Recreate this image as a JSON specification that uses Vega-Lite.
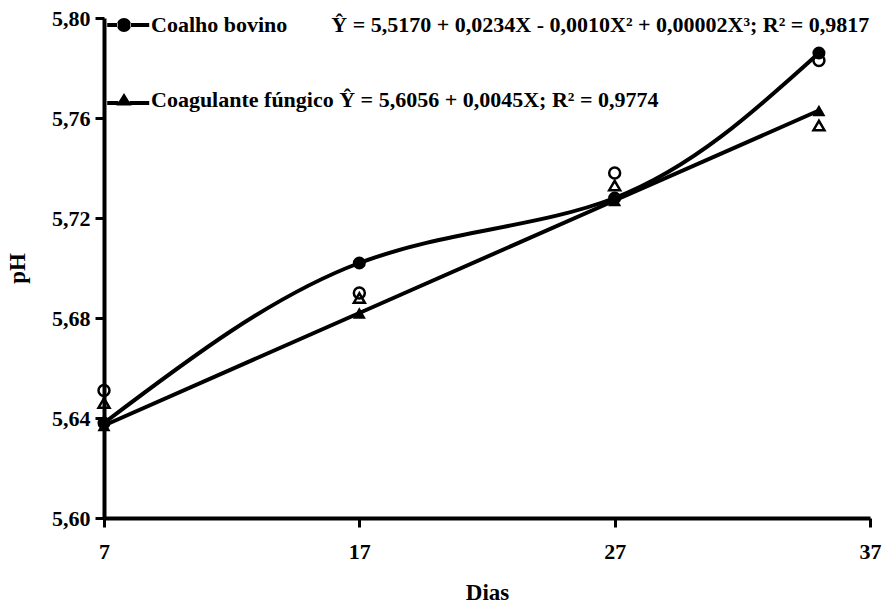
{
  "$schema": "https://vega.github.io/schema/vega-lite/v6.json",
  "width": 766,
  "height": 500,
  "autosize": {"type": "none"},
  "padding": {"left": 104, "top": 18, "right": 14, "bottom": 86},
  "background": "white",
  "config": {
    "view": {"stroke": null},
    "axis": {
      "domainColor": "black", "domainWidth": 4, "tickColor": "black", "tickWidth": 3, "tickSize": 9,
      "grid": false,
      "labelFont": "Liberation Serif", "labelFontWeight": "bold", "labelFontSize": 22, "labelColor": "black",
      "titleFont": "Liberation Serif", "titleFontWeight": "bold", "titleFontSize": 23, "titleColor": "black"
    }
  },
  "data": {
    "values": [
      {"dia": 7, "serie": "Coalho bovino", "tipo": "ajustado", "pH": 5.638},
      {"dia": 17, "serie": "Coalho bovino", "tipo": "ajustado", "pH": 5.702},
      {"dia": 27, "serie": "Coalho bovino", "tipo": "ajustado", "pH": 5.728},
      {"dia": 35, "serie": "Coalho bovino", "tipo": "ajustado", "pH": 5.786},
      {"dia": 7, "serie": "Coagulante fúngico", "tipo": "ajustado", "pH": 5.637},
      {"dia": 17, "serie": "Coagulante fúngico", "tipo": "ajustado", "pH": 5.682},
      {"dia": 27, "serie": "Coagulante fúngico", "tipo": "ajustado", "pH": 5.727},
      {"dia": 35, "serie": "Coagulante fúngico", "tipo": "ajustado", "pH": 5.763},
      {"dia": 7, "serie": "Coalho bovino", "tipo": "observado", "pH": 5.651},
      {"dia": 17, "serie": "Coalho bovino", "tipo": "observado", "pH": 5.690},
      {"dia": 27, "serie": "Coalho bovino", "tipo": "observado", "pH": 5.738},
      {"dia": 35, "serie": "Coalho bovino", "tipo": "observado", "pH": 5.783},
      {"dia": 7, "serie": "Coagulante fúngico", "tipo": "observado", "pH": 5.646},
      {"dia": 17, "serie": "Coagulante fúngico", "tipo": "observado", "pH": 5.688},
      {"dia": 27, "serie": "Coagulante fúngico", "tipo": "observado", "pH": 5.733},
      {"dia": 35, "serie": "Coagulante fúngico", "tipo": "observado", "pH": 5.757}
    ]
  },
  "encoding": {
    "x": {
      "field": "dia", "type": "quantitative",
      "scale": {"domain": [7, 37], "nice": false, "zero": false},
      "axis": {"values": [7, 17, 27, 37], "title": "Dias", "labelPadding": 14, "titlePadding": 19, "labelFlush": false}
    },
    "y": {
      "field": "pH", "type": "quantitative",
      "scale": {"domain": [5.6, 5.8], "nice": false, "zero": false},
      "axis": {
        "values": [5.6, 5.64, 5.68, 5.72, 5.76, 5.8],
        "labelExpr": "replace(format(datum.value, '.2f'), '.', ',')",
        "title": "pH", "labelPadding": 5, "titlePadding": 22
      }
    }
  },
  "layer": [
    {
      "transform": [{"filter": "datum.tipo === 'ajustado'"}],
      "mark": {"type": "line", "interpolate": "natural", "strokeWidth": 4},
      "encoding": {
        "color": {
          "field": "serie", "type": "nominal",
          "scale": {"domain": ["Coalho bovino", "Coagulante fúngico"], "range": ["black", "black"]},
          "legend": {
            "orient": "none", "legendX": 9, "legendY": -4, "title": null, "direction": "vertical",
            "padding": 0, "rowPadding": 53, "symbolSize": 196, "labelOffset": 16, "labelLimit": 800,
            "labelFont": "Liberation Serif", "labelFontWeight": "bold", "labelFontSize": 22, "labelColor": "black",
            "labelExpr": "datum.label === 'Coalho bovino' ? 'Coalho bovino\u00a0\u00a0\u00a0\u00a0\u00a0\u00a0\u00a0\u00a0Ŷ = 5,5170 + 0,0234X - 0,0010X² + 0,00002X³; R² = 0,9817' : 'Coagulante fúngico Ŷ = 5,6056 + 0,0045X; R² = 0,9774'",
            "encode": {
              "symbols": {
                "update": {
                  "shape": {"signal": "datum.value === 'Coalho bovino' ? 'M-2.4,-0.28H-0.9V0.28H-2.4ZM0.9,-0.28H3.6V0.28H0.9ZM-1,0A1,1 0 1,0 1,0A1,1 0 1,0 -1,0Z' : 'M-2.4,0.15H-0.8V0.7H-2.4ZM0.8,0.15H3.6V0.7H0.8ZM0,-1L1.1,0.8L-1.1,0.8Z'"},
                  "size": {"value": 196},
                  "fill": {"value": "black"},
                  "strokeWidth": {"value": 0},
                  "opacity": {"value": 1}
                }
              }
            }
          }
        }
      }
    },
    {
      "transform": [{"filter": "datum.tipo === 'ajustado' && datum.serie === 'Coalho bovino'"}],
      "mark": {"type": "point", "shape": "circle", "filled": true, "color": "black", "size": 170, "opacity": 1}
    },
    {
      "transform": [{"filter": "datum.tipo === 'ajustado' && datum.serie === 'Coagulante fúngico'"}],
      "mark": {"type": "point", "shape": "triangle-up", "filled": true, "color": "black", "size": 170, "opacity": 1}
    },
    {
      "transform": [{"filter": "datum.tipo === 'observado' && datum.serie === 'Coalho bovino'"}],
      "mark": {"type": "point", "shape": "circle", "filled": false, "color": "black", "size": 120, "strokeWidth": 2.5, "opacity": 1}
    },
    {
      "transform": [{"filter": "datum.tipo === 'observado' && datum.serie === 'Coagulante fúngico'"}],
      "mark": {"type": "point", "shape": "triangle-up", "filled": false, "color": "black", "size": 120, "strokeWidth": 2.5, "opacity": 1}
    }
  ]
}
